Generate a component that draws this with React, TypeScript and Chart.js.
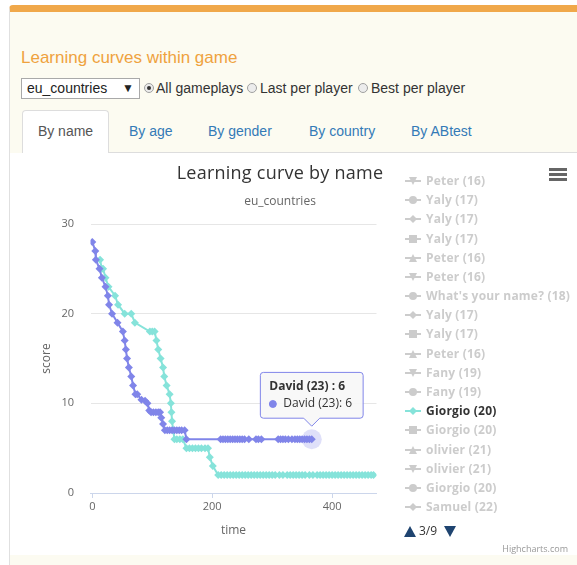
import React, { useEffect, useRef } from 'react';
import { Chart, registerables } from 'chart.js';

Chart.register(...registerables);

// ---------- data ----------
const DAVID_LABEL = 'David (23)';
const DAVID_X = [0, 5, 6, 12, 16, 22, 26, 28, 33, 42, 51, 54, 56, 58, 61, 65, 68, 72, 75, 82, 88, 92, 95, 98, 102, 106, 110, 113, 115, 118, 121, 125, 129, 133, 137, 141, 145, 149, 154, 157, 214, 218, 222, 226, 230, 234, 238, 242, 246, 250, 254, 261, 273, 277, 282, 310, 314, 318, 322, 327, 333, 338, 342, 346, 350, 354, 358, 362, 366];
const DAVID_Y = [28, 27, 26, 25, 24, 23, 22, 21, 20, 19, 18, 17, 16, 15, 14, 13, 12, 11, 11, 10.4, 10.3, 10, 9.2, 9, 9, 9, 9, 9, 8.4, 7.7, 7, 7, 7, 7, 7, 7, 7, 7, 7, 6, 6, 6, 6, 6, 6, 6, 6, 6, 6, 6, 6, 6, 6, 6, 6, 6, 6, 6, 6, 6, 6, 6, 6, 6, 6, 6, 6, 6, 6];

const GIORGIO_LABEL = 'Giorgio (20)';
const GIORGIO_X = [13, 16, 18, 22, 27, 38, 43, 54, 65, 71, 96, 100, 104, 107, 110, 114, 118, 120, 124, 129, 131, 132, 133, 135, 137, 141, 146, 151, 157, 162, 167, 172, 177, 182, 188, 193, 196, 201, 210, 215, 220, 225, 230, 235, 240, 245, 250, 255, 260, 265, 270, 275, 280, 285, 290, 295, 300, 305, 312, 318, 325, 330, 335, 340, 345, 350, 355, 362, 368, 375, 380, 385, 390, 395, 400, 405, 410, 415, 420, 425, 430, 435, 440, 445, 450, 455, 460, 465, 469];
const GIORGIO_Y = [26, 25, 25, 24, 23, 22, 21, 20, 20, 19, 18, 18, 18, 17, 16, 15, 14, 13, 12, 11, 10, 9, 8, 7, 6, 6, 6, 6, 5, 5, 5, 5, 5, 5, 5, 5, 4, 3, 2, 2, 2, 2, 2, 2, 2, 2, 2, 2, 2, 2, 2, 2, 2, 2, 2, 2, 2, 2, 2, 2, 2, 2, 2, 2, 2, 2, 2, 2, 2, 2, 2, 2, 2, 2, 2, 2, 2, 2, 2, 2, 2, 2, 2, 2, 2, 2, 2, 2, 2];

const X_TICKS = [0, 200, 400];
const Y_TICKS = [0, 10, 20, 30];

const LEGEND_NAMES = ['Peter (16)', 'Yaly (17)', 'Yaly (17)', 'Yaly (17)', 'Peter (16)', 'Peter (16)', "What's your name? (18)", 'Yaly (17)', 'Yaly (17)', 'Peter (16)', 'Fany (19)', 'Fany (19)', 'Giorgio (20)', 'Giorgio (20)', 'olivier (21)', 'olivier (21)', 'Giorgio (20)', 'Samuel (22)'];
const LEGEND_ACTIVE = 12;
const LEGEND_PAGE = '3/9';

const TABS = ['By name', 'By age', 'By gender', 'By country', 'By ABtest'];
const RADIO_OPTIONS = ['All gameplays', 'Last per player', 'Best per player'];
const GAME = 'eu_countries';

// ---------- styles ----------
const PURPLE = '#8085e9';
const TURQ = '#86e3da';
const HIDDEN = '#cccccc';
const SYMBOLS = ['circle', 'diamond', 'square', 'triangle', 'triangle-down'];
const CHART_FONT = '"Open Sans", "DejaVu Sans", sans-serif';

function LegendSymbol({ type, color }: { type: string; color: string }) {
  let shape: any = null;
  if (type === 'circle') shape = <circle cx={8} cy={5} r={4} fill={color} />;
  else if (type === 'diamond') shape = <polygon points="8,1 12,5 8,9 4,5" fill={color} />;
  else if (type === 'square') shape = <rect x={4} y={1} width={8} height={8} fill={color} />;
  else if (type === 'triangle') shape = <polygon points="8,1 12,9 4,9" fill={color} />;
  else shape = <polygon points="4,1 12,1 8,9" fill={color} />;
  return (
    <svg width={16} height={10} style={{ display: 'block' }}>
      <line x1={0} y1={5} x2={16} y2={5} stroke={color} strokeWidth={2} />
      {shape}
    </svg>
  );
}

function ChartCanvas() {
  const ref = useRef<HTMLCanvasElement | null>(null);
  useEffect(() => {
    if (!ref.current) return;
    const last = DAVID_X.length - 1;
    const chart = new Chart(ref.current, {
      type: 'line',
      data: {
        datasets: [
          {
            label: DAVID_LABEL,
            data: DAVID_X.map((x, i) => ({ x, y: DAVID_Y[i] })),
            borderColor: PURPLE,
            backgroundColor: PURPLE,
            borderWidth: 2,
            pointStyle: 'rectRot',
            pointRadius: 4,
            pointBorderWidth: 0,
            pointHoverRadius: 5,
            pointHoverBorderWidth: 0,
            tension: 0,
          },
          {
            label: GIORGIO_LABEL,
            data: GIORGIO_X.map((x, i) => ({ x, y: GIORGIO_Y[i] })),
            borderColor: TURQ,
            backgroundColor: TURQ,
            borderWidth: 2,
            pointStyle: 'rectRot',
            pointRadius: 4,
            pointBorderWidth: 0,
            tension: 0,
          },
          {
            label: 'halo',
            data: [{ x: DAVID_X[last], y: DAVID_Y[last] }],
            showLine: false,
            pointStyle: 'circle',
            pointRadius: 10,
            pointBorderWidth: 0,
            pointBackgroundColor: 'rgba(128,133,233,0.25)',
            backgroundColor: 'rgba(128,133,233,0.25)',
            borderColor: 'rgba(0,0,0,0)',
          },
        ],
      },
      options: {
        animation: false,
        responsive: false,
        events: [],
        layout: { padding: { left: 0, top: 71, right: 200.5, bottom: 0 } },
        plugins: {
          legend: { display: false },
          title: { display: false },
          tooltip: {
            enabled: true,
            yAlign: 'bottom',
            xAlign: 'center',
            backgroundColor: 'rgba(247,247,247,0.92)',
            borderColor: PURPLE,
            borderWidth: 1,
            cornerRadius: 3,
            caretSize: 8,
            caretPadding: 13,
            padding: { top: 7, bottom: 7, left: 9, right: 11 },
            titleColor: '#333333',
            bodyColor: '#333333',
            titleFont: { family: CHART_FONT, size: 12, weight: 'bold' },
            bodyFont: { family: CHART_FONT, size: 12 },
            titleMarginBottom: 3,
            displayColors: true,
            usePointStyle: true,
            boxWidth: 7,
            boxHeight: 7,
            boxPadding: 5,
            filter: (item: any) => item.datasetIndex === 0,
            callbacks: {
              title: (items: any[]) => (items.length ? `${items[0].dataset.label} : ${items[0].parsed.y}` : ''),
              label: (item: any) => `${item.dataset.label}: ${item.parsed.y}`,
              labelColor: () => ({ borderColor: PURPLE, backgroundColor: PURPLE, borderWidth: 0 }),
              labelPointStyle: () => ({ pointStyle: 'circle', rotation: 0 }),
            },
          },
        },
        scales: {
          x: {
            type: 'linear',
            min: -3,
            max: 474,
            afterBuildTicks: (s: any) => {
              s.ticks = X_TICKS.map((v) => ({ value: v }));
            },
            afterFit: (s: any) => {
              s.height = 62;
            },
            grid: { drawOnChartArea: false, color: '#ccd6eb', tickColor: '#ccd6eb', tickLength: 5 },
            border: { display: true, color: '#ccd6eb', width: 1 },
            ticks: { color: '#666666', font: { family: CHART_FONT, size: 11 }, padding: 2.4, maxRotation: 0 },
            title: {
              display: true,
              text: 'time',
              color: '#666666',
              font: { family: CHART_FONT, size: 12 },
              padding: { top: 0, bottom: 16.8 },
            },
          },
          y: {
            type: 'linear',
            min: 0,
            max: 30,
            afterBuildTicks: (s: any) => {
              s.ticks = Y_TICKS.map((v) => ({ value: v }));
            },
            afterFit: (s: any) => {
              s.width = 79.5;
            },
            grid: { color: '#e6e6e6', drawTicks: false },
            border: { display: false },
            ticks: { color: '#666666', font: { family: CHART_FONT, size: 11 }, padding: 16.5 },
            title: {
              display: true,
              text: 'score',
              color: '#666666',
              font: { family: CHART_FONT, size: 12 },
              padding: { top: 28.8, bottom: 0 },
            },
          },
        },
      } as any,
    });
    const el: any = chart.getDatasetMeta(0).data[last];
    chart.tooltip?.setActiveElements([{ datasetIndex: 0, index: last }], { x: el.x, y: el.y });
    chart.update();
    return () => chart.destroy();
  }, []);
  return <canvas ref={ref} width={566} height={402} style={{ display: 'block', width: 566, height: 402 }} />;
}

export default function App() {
  const abs = (s: any) => ({ position: 'absolute', ...s } as React.CSSProperties);
  const radioPos = [
    [144, 156],
    [247, 260],
    [358, 371],
  ];
  const tabLefts = [0, 129, 208, 309, 411];
  return (
    <div
      style={{
        position: 'fixed',
        left: 0,
        top: 0,
        width: 577,
        height: 565,
        background: '#ffffff',
        overflow: 'hidden',
        fontFamily: '"Liberation Sans", Arial, sans-serif',
      }}
    >
      {/* card */}
      <div
        style={abs({
          left: 9,
          top: 5,
          width: 568,
          height: 560,
          background: '#fcfbf1',
          borderTop: '7px solid #f0a84a',
          borderLeft: '1px solid #e0e0e0',
          borderTopLeftRadius: 4,
          boxSizing: 'border-box',
        })}
      />
      <div style={abs({ left: 21, top: 47, fontSize: 17, lineHeight: '22px', color: '#efa23e', whiteSpace: 'nowrap' })}>
        Learning curves within game
      </div>
      {/* select */}
      <div
        style={abs({
          left: 21,
          top: 78,
          width: 119,
          height: 21,
          boxSizing: 'border-box',
          border: '1px solid #a9a9a9',
          background: '#ffffff',
          fontSize: 14,
          lineHeight: '19px',
          color: '#222',
        })}
      >
        <span style={abs({ left: 5, top: 0 })}>{GAME}</span>
        <span style={abs({ left: 100, top: 0, fontSize: 12 })}>▼</span>
      </div>
      {RADIO_OPTIONS.map((t, i) => (
        <React.Fragment key={t}>
          <div
            style={abs({
              left: radioPos[i][0],
              top: 83,
              width: 10,
              height: 10,
              borderRadius: 5,
              boxSizing: 'border-box',
              border: '1px solid #a0a0a0',
              background: '#ececec',
            })}
          >
            {i === 0 ? <div style={abs({ left: 2, top: 2, width: 4, height: 4, borderRadius: 2, background: '#333' })} /> : null}
          </div>
          <div style={abs({ left: radioPos[i][1], top: 79, fontSize: 14, lineHeight: '18px', color: '#333', whiteSpace: 'nowrap' })}>
            {t}
          </div>
        </React.Fragment>
      ))}
      {/* tabs */}
      <div style={abs({ left: 108, top: 152, width: 469, height: 1, background: '#dddddd' })} />
      <div
        style={abs({
          left: 22,
          top: 110,
          width: 87,
          height: 43,
          boxSizing: 'border-box',
          border: '1px solid #dddddd',
          borderBottom: 'none',
          borderRadius: '4px 4px 0 0',
          background: '#ffffff',
          textAlign: 'center',
          fontSize: 14,
          lineHeight: '41px',
          color: '#555555',
        })}
      >
        {TABS[0]}
      </div>
      {TABS.slice(1).map((t, i) => (
        <div key={t} style={abs({ left: tabLefts[i + 1], top: 121, fontSize: 14, lineHeight: '20px', color: '#337ab7', whiteSpace: 'nowrap' })}>
          {t}
        </div>
      ))}
      {/* chart panel */}
      <div style={abs({ left: 10, top: 153, width: 567, height: 402, background: '#ffffff' })} />
      <div style={abs({ left: 11, top: 153, width: 566, height: 402 })}>
        <ChartCanvas />
      </div>
      <div
        style={abs({
          left: 0,
          top: 160,
          width: 560,
          textAlign: 'center',
          fontFamily: CHART_FONT,
          fontSize: 18,
          letterSpacing: '0.25px',
          lineHeight: '24px',
          color: '#333333',
        })}
      >
        Learning curve by name
      </div>
      <div style={abs({ left: 0, top: 193, width: 560, textAlign: 'center', fontFamily: CHART_FONT, fontSize: 12, lineHeight: '16px', color: '#666666' })}>
        {GAME}
      </div>
      {/* menu */}
      {[0, 1, 2].map((k) => (
        <div key={k} style={abs({ left: 549, top: 168 + k * 5, width: 18, height: 3, background: '#666666' })} />
      ))}
      {/* legend */}
      {LEGEND_NAMES.map((name, i) => {
        const active = i === LEGEND_ACTIVE;
        const color = active ? TURQ : HIDDEN;
        const cy = 181 + i * 19.18;
        return (
          <React.Fragment key={i}>
            <div style={abs({ left: 405, top: cy - 5 })}>
              <LegendSymbol type={SYMBOLS[(i + 4) % 5]} color={color} />
            </div>
            <div
              style={abs({
                left: 426,
                top: cy - 9,
                fontFamily: CHART_FONT,
                fontWeight: 700,
                fontSize: 12,
                letterSpacing: '0.2px',
                lineHeight: '18px',
                color: active ? '#333333' : HIDDEN,
                whiteSpace: 'nowrap',
              })}
            >
              {name}
            </div>
          </React.Fragment>
        );
      })}
      {/* legend nav */}
      <svg width={12} height={11} style={abs({ left: 404, top: 526 })}>
        <polygon points="6,0 12,11 0,11" fill="#1f4470" />
      </svg>
      <div style={abs({ left: 419, top: 522, fontFamily: CHART_FONT, fontSize: 12, lineHeight: '18px', color: '#333333' })}>{LEGEND_PAGE}</div>
      <svg width={12} height={11} style={abs({ left: 444, top: 526 })}>
        <polygon points="0,0 12,0 6,11" fill="#1f4470" />
      </svg>
      <div style={abs({ left: 468, top: 543, width: 100, textAlign: 'right', fontFamily: CHART_FONT, fontSize: 9, lineHeight: '12px', color: '#999999' })}>
        Highcharts.com
      </div>
    </div>
  );
}
